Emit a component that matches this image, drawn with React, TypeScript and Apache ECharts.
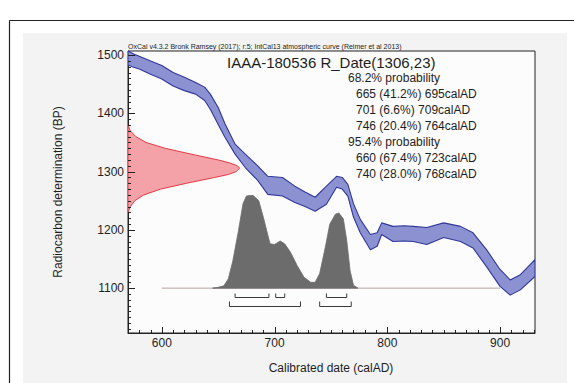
import React, { useEffect, useRef } from "react";
import * as echarts from "echarts";

// Calibration curve (IntCal13) band: calAD year, upper BP, lower BP
const curveYears = [570, 575, 580, 590, 600, 610, 620, 630, 638, 643, 650, 656, 665, 674, 685, 694, 707, 718, 727, 736, 746, 755, 760, 765, 770, 776, 785, 791, 795, 805, 815, 823, 835, 850, 865, 876, 888, 900, 909, 918, 931];
const curveUpper = [1507, 1502, 1498, 1490, 1482, 1470, 1462, 1453, 1445, 1433, 1410, 1382, 1347, 1330, 1310, 1292, 1290, 1275, 1265, 1256, 1275, 1292, 1290, 1278, 1245, 1218, 1192, 1195, 1212, 1206, 1207, 1206, 1204, 1212, 1206, 1195, 1166, 1132, 1114, 1123, 1149];
const curveLower = [1483, 1479, 1476, 1467, 1459, 1447, 1439, 1433, 1422, 1407, 1381, 1359, 1330, 1307, 1285, 1261, 1258, 1247, 1240, 1232, 1244, 1273, 1270, 1258, 1222, 1195, 1166, 1172, 1192, 1180, 1181, 1180, 1175, 1187, 1180, 1169, 1137, 1103, 1088, 1097, 1120];

// Radiocarbon measurement distribution R_Date(1306,23): BP and drawn width (years from axis)
const redBP = [1380, 1370, 1360, 1350, 1340, 1330, 1320, 1315, 1310, 1306, 1300, 1295, 1290, 1280, 1270, 1260, 1250, 1240, 1230];
const redWidth = [0, 2, 7, 16, 33, 56, 80, 90, 97, 99, 96, 89, 77, 52, 29, 14, 6, 2, 0];

// Calibrated probability distribution: calAD year and height above baseline (BP units)
const histYears = [645, 649, 655, 659, 663, 668, 672, 675, 678, 681, 686, 690, 693, 696, 700, 705, 709, 714, 720, 726, 732, 736, 740, 745, 749, 754, 757, 761, 764, 767, 770, 774];
const histHeight = [0, 1, 4, 16, 47, 99, 145, 158, 159, 159, 150, 122, 99, 76, 75, 81, 76, 62, 39, 19, 10, 10, 25, 70, 110, 127, 129, 119, 82, 30, 5, 0];
const histBase = 1100;
const histRange = [600, 900];

// Ranges
const ranges68 = [[665, 695], [701, 709], [746, 764]];
const ranges95 = [[660, 723], [740, 768]];

// Ticks
const xMajor = [600, 700, 800, 900];
const yMajor = [1100, 1200, 1300, 1400, 1500];
const xMin = 570, xMax = 931, yMin = 1023, yMax = 1507;

const headerText = "OxCal v4.3.2 Bronk Ramsey (2017); r:5; IntCal13 atmospheric curve (Reimer et al 2013)";
const titleText = "IAAA-180536 R_Date(1306,23)";
const probHead = ["68.2% probability", "95.4% probability"];
const prob68 = ["665 (41.2%) 695calAD", "701 (6.6%) 709calAD", "746 (20.4%) 764calAD"];
const prob95 = ["660 (67.4%) 723calAD", "740 (28.0%) 768calAD"];

const FONT = "'Liberation Sans', Arial, sans-serif";

export default function App() {
  const ref = useRef<HTMLDivElement>(null);
  useEffect(() => {
    if (!ref.current) return;
    const chart = echarts.init(ref.current, null, { renderer: "svg" });

    const xMinor: number[] = [];
    for (let v = 570; v <= 930; v += 10) xMinor.push(v);
    const yMinor: number[] = [];
    for (let v = 1030; v <= 1500; v += 10) yMinor.push(v);

    const polySeries = (pts: number[][], fill: string, stroke: string, lw: number, z: number) => ({
      type: "custom",
      xAxisIndex: 0,
      yAxisIndex: 0,
      data: [[xMin, yMin]],
      clip: true,
      silent: true,
      z,
      renderItem: (_p: any, api: any) => ({
        type: "polygon",
        shape: { points: pts.map((p) => api.coord(p)) },
        style: { fill, stroke, lineWidth: lw, lineJoin: "round" },
      }),
    });

    const bandPts = curveYears
      .map((x, i) => [x, curveUpper[i]])
      .concat(curveYears.map((x, i) => [x, curveLower[i]]).reverse());
    const redPts = redBP.map((b, i) => [xMin + redWidth[i], b]);
    const histPts = histYears.map((x, i) => [x, histBase + histHeight[i]]);

    const bracketSeries = {
      type: "custom",
      xAxisIndex: 0,
      yAxisIndex: 0,
      data: [[xMin, yMin]],
      silent: true,
      z: 5,
      renderItem: (_p: any, api: any) => {
        const children: any[] = [];
        const addRow = (rs: number[][], yBase: number, up: number) => {
          rs.forEach(([a, b]) => {
            const pa = api.coord([a, histBase]);
            const pb = api.coord([b, histBase]);
            const y = Math.round(pa[1] + yBase) + 0.5;
            children.push({
              type: "polyline",
              shape: { points: [[pa[0], y - up], [pa[0], y], [pb[0], y], [pb[0], y - up]] },
              style: { stroke: "#3a3a3a", lineWidth: 1, fill: null },
            });
          });
        };
        addRow(ranges68, 8.5, 4);
        addRow(ranges95, 18, 5);
        return { type: "group", children };
      },
    };

    // Axis ticks (pointing inward), placed through the axis scales
    const tickSeries = {
      type: "custom",
      xAxisIndex: 0,
      yAxisIndex: 0,
      data: [[xMin, yMin]],
      silent: true,
      clip: false,
      z: 10,
      renderItem: (_p: any, api: any) => {
        const children: any[] = [];
        const stroke = "#222";
        xMinor.forEach((v) => {
          const p = api.coord([v, yMin]);
          const len = xMajor.includes(v) ? 6 : 3;
          const x = Math.round(p[0]) + 0.5;
          children.push({ type: "line", shape: { x1: x, y1: p[1], x2: x, y2: p[1] - len }, style: { stroke, lineWidth: 1 } });
        });
        yMinor.forEach((v) => {
          const p = api.coord([xMin, v]);
          const len = yMajor.includes(v) ? 7 : 3;
          const y = Math.round(p[1]) + 0.5;
          children.push({ type: "line", shape: { x1: p[0], y1: y, x2: p[0] + len, y2: y }, style: { stroke, lineWidth: 1 } });
        });
        return { type: "group", children };
      },
    };

    const txt = (text: string, x: number, y: number, size: number, align = "left", extra: any = {}) => ({
      type: "text",
      x,
      y,
      silent: true,
      style: { text, font: `${size}px ${FONT}`, fill: "#1e1e1e", textAlign: align, textVerticalAlign: "middle" },
      ...extra,
    });

    const graphics: any[] = [
      { type: "rect", shape: { x: 23, y: 33, width: 544, height: 360 }, style: { fill: "#f3f3f3" }, z: -10, silent: true },
      { type: "line", shape: { x1: 9.5, y1: 20.5, x2: 574, y2: 20.5 }, style: { stroke: "#222", lineWidth: 1.2 }, silent: true },
      { type: "line", shape: { x1: 9.5, y1: 20.5, x2: 9.5, y2: 383 }, style: { stroke: "#222", lineWidth: 1.2 }, silent: true },
      txt(headerText, 128, 46, 7),
      txt(titleText, 227, 62, 15),
      txt(probHead[0], 348, 78, 12),
      ...prob68.map((t, i) => txt(t, 356, 94 + i * 16, 12)),
      txt(probHead[1], 348, 142, 12),
      ...prob95.map((t, i) => txt(t, 356, 158 + i * 16, 12)),
      txt("Calibrated date (calAD)", 331, 368, 12, "center"),
      {
        type: "text",
        x: 58,
        y: 192,
        rotation: Math.PI / 2,
        silent: true,
        style: { text: "Radiocarbon determination (BP)", font: `12px ${FONT}`, fill: "#1e1e1e", textAlign: "center", textVerticalAlign: "middle" },
      },
    ];

    chart.setOption({
      animation: false,
      backgroundColor: "#ffffff",
      grid: { left: 128, right: 39, top: 51, bottom: 50, show: true, borderColor: "#222", borderWidth: 1, backgroundColor: "#fcfcfc" },
      xAxis: {
        type: "value", min: xMin, max: xMax, position: "bottom",
        splitLine: { show: false },
        axisLine: { show: true, lineStyle: { color: "#222", width: 1 } },
        axisTick: { show: false },
        axisLabel: { customValues: xMajor, margin: 4, fontSize: 12, fontFamily: FONT, color: "#1e1e1e", formatter: (v: number) => String(v) },
      },
      yAxis: {
        type: "value", min: yMin, max: yMax, position: "left",
        splitLine: { show: false },
        axisLine: { show: true, lineStyle: { color: "#222", width: 1 } },
        axisTick: { show: false },
        axisLabel: { customValues: yMajor, margin: 4, fontSize: 12, fontFamily: FONT, color: "#1e1e1e", formatter: (v: number) => String(v) },
      },
      series: [
        polySeries(bandPts, "#8b91d1", "#30379a", 1.1, 2),
        polySeries(redPts, "#f4a2a8", "#e23a44", 1, 3),
        {
          type: "line",
          xAxisIndex: 0,
          yAxisIndex: 0,
          data: [[histRange[0], histBase], [histRange[1], histBase]],
          symbol: "none",
          silent: true,
          z: 3,
          lineStyle: { color: "#b9a2a2", width: 1 },
        },
        polySeries(histPts, "#6c6c6c", "#6c6c6c", 0.8, 4),
        bracketSeries,
        tickSeries,
      ],
      graphic: graphics,
    });
    return () => chart.dispose();
  }, []);
  return <div ref={ref} style={{ position: "fixed", left: 0, top: 0, width: 574, height: 383 }} />;
}
